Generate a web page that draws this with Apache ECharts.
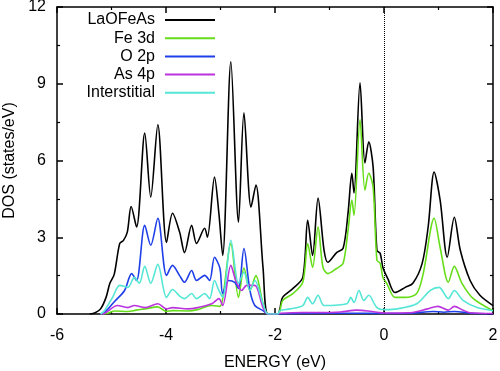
<!DOCTYPE html>
<html><head><meta charset="utf-8">
<script src="https://cdn.jsdelivr.net/npm/echarts@6/dist/echarts.min.js"></script>
<style>html,body{margin:0;padding:0;background:#fff}#c{width:500px;height:371px}</style>
</head><body><div id="c"></div>
<script>
// Energy (eV), DOS (states/eV) pairs
const totalDOS = [[-5.4,0],[-5.3,0.05],[-5.2,0.2],[-5.1,0.65],[-5.03,1.2],[-4.95,1.55],[-4.85,2.75],[-4.78,2.88],[-4.71,3.2],[-4.64,4.2],[-4.54,3.4],[-4.39,7.07],[-4.28,4.57],[-4.15,7.4],[-3.99,2.8],[-3.88,3.94],[-3.75,3.2],[-3.66,2.4],[-3.53,3.47],[-3.44,2.76],[-3.29,3.35],[-3.24,3.0],[-3.11,5.35],[-3.03,3.94],[-2.96,2.29],[-2.81,9.86],[-2.67,3.59],[-2.57,7.86],[-2.44,4.18],[-2.35,5.04],[-2.22,1.82],[-2.13,0],[-1.95,0],[-1.91,0.2],[-1.86,0.65],[-1.67,1.0],[-1.49,1.43],[-1.40,3.66],[-1.31,2.29],[-1.21,4.53],[-1.10,2.49],[-1.03,2.02],[-0.87,2.4],[-0.75,2.57],[-0.66,3.94],[-0.59,5.5],[-0.55,4.73],[-0.44,9.04],[-0.35,5.9],[-0.28,6.73],[-0.2,5.75],[-0.13,2.49],[-0.07,2.37],[-0.02,1.82],[0.07,1.38],[0.2,0.84],[0.39,1.04],[0.53,1.2],[0.7,1.98],[0.81,3.4],[0.92,5.55],[1.03,4.45],[1.16,2.22],[1.29,3.78],[1.40,2.49],[1.58,1.31],[1.76,0.73],[2.0,0.33]];
const fe3d = [[-5.15,0],[-5.07,0.03],[-4.94,0.12],[-4.7,0.1],[-4.55,0.15],[-4.39,0.2],[-4.15,0.28],[-4.0,0.1],[-3.88,0.13],[-3.6,0.12],[-3.42,0.17],[-3.16,0.33],[-3.01,0.3],[-2.96,0.6],[-2.81,2.75],[-2.67,0.65],[-2.57,1.8],[-2.46,0.92],[-2.35,1.5],[-2.22,0.4],[-2.13,0],[-1.95,0],[-1.91,0.13],[-1.86,0.53],[-1.67,0.8],[-1.49,1.24],[-1.40,2.75],[-1.31,1.82],[-1.21,3.4],[-1.12,1.82],[-1.03,1.58],[-0.87,1.78],[-0.75,1.98],[-0.66,3.27],[-0.59,4.45],[-0.55,3.86],[-0.44,7.6],[-0.35,4.84],[-0.28,5.5],[-0.2,4.96],[-0.13,2.1],[-0.07,1.98],[-0.02,1.43],[0.05,1.2],[0.2,0.65],[0.39,0.65],[0.6,0.8],[0.72,1.58],[0.92,3.74],[1.03,2.6],[1.18,1.24],[1.29,1.86],[1.43,1.2],[1.64,0.6],[2.0,0.13]];
const o2p = [[-5.2,0],[-5.13,0.05],[-4.94,0.5],[-4.76,0.92],[-4.63,1.58],[-4.54,1.31],[-4.39,3.47],[-4.28,2.69],[-4.15,3.74],[-3.99,1.51],[-3.88,1.9],[-3.75,1.5],[-3.66,1.24],[-3.53,1.7],[-3.44,1.31],[-3.29,1.51],[-3.2,1.31],[-3.11,2.22],[-3.01,1.78],[-2.96,0.8],[-2.85,1.31],[-2.74,1.24],[-2.67,1.0],[-2.57,2.56],[-2.46,0.92],[-2.37,0.33],[-2.22,0.13],[-2.13,0],[-1.95,0],[-1.5,0.02],[-0.5,0.03],[0,0.02],[0.5,0.03],[0.9,0.1],[1.1,0.07],[1.29,0.1],[1.6,0.03],[2.0,0.01]];
const as4p = [[-5.2,0],[-5.13,0.02],[-4.89,0.33],[-4.7,0.25],[-4.58,0.33],[-4.39,0.25],[-4.15,0.4],[-3.99,0.2],[-3.88,0.25],[-3.6,0.2],[-3.42,0.25],[-3.16,0.4],[-3.03,0.6],[-2.96,0.33],[-2.81,1.9],[-2.72,1.31],[-2.61,0.92],[-2.52,1.12],[-2.37,1.12],[-2.22,0.25],[-2.13,0],[-1.95,0],[-1.9,0.03],[-1.5,0.06],[-1.2,0.06],[-0.8,0.08],[-0.5,0.15],[-0.3,0.12],[0,0.04],[0.48,0.05],[0.8,0.2],[0.99,0.3],[1.18,0.15],[1.29,0.3],[1.45,0.15],[1.58,0.05],[2.0,0.02]];
const interstitial = [[-5.2,0],[-5.13,0.13],[-4.98,0.65],[-4.85,1.12],[-4.7,1.04],[-4.58,1.43],[-4.49,1.2],[-4.39,1.86],[-4.28,1.2],[-4.15,1.94],[-3.99,0.65],[-3.88,0.96],[-3.75,0.7],[-3.66,0.6],[-3.53,0.8],[-3.44,0.6],[-3.29,0.8],[-3.2,0.6],[-3.11,1.31],[-3.03,0.92],[-2.96,0.65],[-2.81,2.88],[-2.67,1.2],[-2.57,1.63],[-2.46,0.92],[-2.37,1.31],[-2.22,0.4],[-2.13,0],[-1.95,0],[-1.91,0.13],[-1.73,0.2],[-1.49,0.33],[-1.40,0.65],[-1.31,0.4],[-1.21,0.73],[-1.10,0.33],[-0.68,0.4],[-0.61,0.65],[-0.55,0.45],[-0.46,0.92],[-0.37,0.53],[-0.28,0.73],[-0.13,0.25],[0.02,0.17],[0.24,0.2],[0.6,0.4],[0.85,0.92],[1.01,1.04],[1.18,0.6],[1.29,0.92],[1.45,0.53],[1.71,0.25],[2.0,0.13]];

const seriesNames = ['LaOFeAs','Fe 3d','O 2p','As 4p','Interstitial'];
const seriesColors = ['#000000','#66dd1a','#1f3fe8','#bb33dd','#55e6d6'];
const seriesData = [totalDOS, fe3d, o2p, as4p, interstitial];
const xTicks = {min:-6, max:2, interval:2};
const yTicks = {min:0, max:12, interval:3};

const FONT = 'Liberation Sans, Arial, sans-serif';
const chart = echarts.init(document.getElementById('c'), null, {renderer:'canvas'});

const axisCommon = {
  axisLine:{show:true, onZero:false, lineStyle:{color:'#000', width:1.5}},
  axisTick:{show:true, inside:true, length:6, lineStyle:{color:'#000', width:1.5}},
  minorTick:{show:true, splitNumber:2, length:3, lineStyle:{color:'#000', width:1.2}},
  splitLine:{show:false}
};

const legends = seriesNames.map((n,i)=>({
  data:[n], right:285, top:12 + i*18.2, orient:'vertical', align:'right',
  icon:'rect', itemWidth:50, itemHeight:2, padding:0, selectedMode:false,
  textStyle:{fontFamily:FONT, fontSize:16, color:'#000', padding:[0,5,0,0]}
}));

const series = seriesNames.map((n,i)=>({
  name:n, type:'line', data:seriesData[i], showSymbol:false, symbol:'none',
  smooth:0.3, color:seriesColors[i], z: 2+i,
  lineStyle:{width:1.6, color:seriesColors[i]}, animation:false
}));
series[0].markLine = {
  silent:true, symbol:['none','none'], label:{show:false},
  lineStyle:{type:'dotted', color:'#000', width:1},
  data:[{xAxis:0}], animation:false
};

chart.setOption({
  animation:false,
  backgroundColor:'#fff',
  grid:{left:57, right:7, top:7, bottom:57, containLabel:false, outerBoundsMode:'none'},
  legend:legends,
  xAxis:[
    Object.assign({type:'value', position:'bottom', min:xTicks.min, max:xTicks.max, interval:xTicks.interval,
      name:'ENERGY (eV)', nameLocation:'middle', nameGap:41,
      nameTextStyle:{fontFamily:FONT, fontSize:16, color:'#000'},
      axisLabel:{fontFamily:FONT, fontSize:16, color:'#000', margin:14}}, axisCommon),
    Object.assign({type:'value', position:'top', min:xTicks.min, max:xTicks.max, interval:xTicks.interval,
      axisLabel:{show:false}}, axisCommon)
  ],
  yAxis:[
    Object.assign({type:'value', position:'left', min:yTicks.min, max:yTicks.max, interval:yTicks.interval,
      name:'DOS (states/eV)', nameLocation:'middle', nameGap:37, nameRotate:90,
      nameTextStyle:{fontFamily:FONT, fontSize:16, color:'#000'},
      axisLabel:{fontFamily:FONT, fontSize:16, color:'#000', margin:11}}, axisCommon),
    Object.assign({type:'value', position:'right', min:yTicks.min, max:yTicks.max, interval:yTicks.interval,
      axisLabel:{show:false}}, axisCommon)
  ],
  series:series
});
</script></body></html>
